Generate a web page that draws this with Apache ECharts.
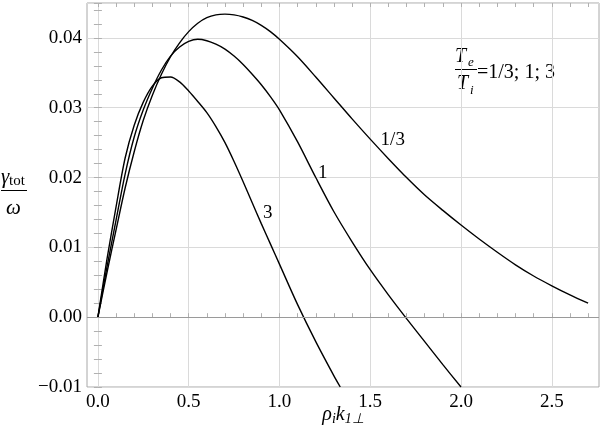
<!DOCTYPE html>
<html>
<head>
<meta charset="utf-8">
<script src="https://cdn.jsdelivr.net/npm/echarts@6/dist/echarts.min.js"></script>
<style>
html, body { margin: 0; padding: 0; background: #fff; }
#chart { width: 600px; height: 427px; }
</style>
</head>
<body>
<div id="chart"></div>
<script>
// curve Te/Ti = 1/3
var x13 = [0, 0.05, 0.1, 0.15, 0.2, 0.25, 0.3, 0.35, 0.4, 0.45, 0.5, 0.55, 0.6, 0.65, 0.7, 0.75, 0.8, 0.85, 0.9, 0.95, 1.0, 1.1, 1.2, 1.3, 1.4, 1.5, 1.6, 1.7, 1.8, 1.9, 2.0, 2.1, 2.2, 2.3, 2.4, 2.5, 2.6, 2.7];
var y13 = [0, 0.0064, 0.0125, 0.0185, 0.0237, 0.0282, 0.0318, 0.0348, 0.0373, 0.0393, 0.0409, 0.0421, 0.0429, 0.0433, 0.0434, 0.0433, 0.0430, 0.0425, 0.0418, 0.0409, 0.0398, 0.0373, 0.0344, 0.0314, 0.0284, 0.0255, 0.0227, 0.0200, 0.0175, 0.0153, 0.0132, 0.0112, 0.0093, 0.0075, 0.0059, 0.0045, 0.0032, 0.0020];
// curve Te/Ti = 1
var x1 = [0, 0.05, 0.1, 0.15, 0.2, 0.25, 0.3, 0.35, 0.4, 0.45, 0.5, 0.55, 0.6, 0.65, 0.7, 0.75, 0.8, 0.85, 0.9, 0.95, 1.0, 1.1, 1.2, 1.3, 1.4, 1.5, 1.6, 1.7, 1.8, 1.9, 2.0];
var y1 = [0, 0.0072, 0.0139, 0.0205, 0.0258, 0.0297, 0.0328, 0.0354, 0.0374, 0.0387, 0.0395, 0.0398, 0.0396, 0.0391, 0.0384, 0.0374, 0.0362, 0.0348, 0.0333, 0.0316, 0.0297, 0.0251, 0.0200, 0.0151, 0.0108, 0.0068, 0.0032, -0.0002, -0.0035, -0.0068, -0.0100];
// curve Te/Ti = 3
var x3 = [0, 0.05, 0.1, 0.15, 0.2, 0.25, 0.3, 0.35, 0.4, 0.45, 0.5, 0.55, 0.6, 0.65, 0.7, 0.75, 0.8, 0.85, 0.9, 0.95, 1.0, 1.1, 1.2, 1.3, 1.335];
var y3 = [0, 0.0083, 0.0158, 0.0228, 0.0275, 0.0308, 0.0331, 0.0343, 0.0344, 0.0337, 0.0324, 0.0309, 0.0293, 0.0273, 0.0250, 0.0223, 0.0194, 0.0164, 0.0134, 0.0105, 0.0076, 0.0018, -0.0035, -0.0084, -0.0100];

var curveNames = ['1/3', '1', '3'];
var xMajorTicks = [0, 0.5, 1, 1.5, 2, 2.5];
var xMinorTicks = [0, 0.1, 0.2, 0.3, 0.4, 0.5, 0.6, 0.7, 0.8, 0.9, 1, 1.1, 1.2, 1.3, 1.4, 1.5, 1.6, 1.7, 1.8, 1.9, 2, 2.1, 2.2, 2.3, 2.4, 2.5, 2.6, 2.7];

var ink = '#000';
var serif = 'Liberation Serif';
var gridColor = '#dadada';
var tickColor = '#b0b0b0';

function zip(xs, ys) {
  return xs.map(function(x, i) { return [x, ys[i]]; });
}

function tickAxis(pos, values) {
  return {
    type: 'value', position: pos, min: -0.06, max: 2.76,
    axisLine: { show: false },
    axisTick: { show: true, inside: true, length: 4, customValues: values, lineStyle: { color: tickColor } },
    axisLabel: { show: false },
    splitLine: { show: false }
  };
}

function curve(name, xs, ys, labelCoord) {
  return {
    name: name, type: 'line', xAxisIndex: 0, yAxisIndex: 0,
    data: zip(xs, ys), smooth: 0.3, showSymbol: false, silent: true,
    lineStyle: { color: ink, width: 1.4 },
    markPoint: {
      symbol: 'circle', symbolSize: 0, silent: true,
      label: { show: true, position: 'inside', formatter: name, color: ink, fontFamily: serif, fontSize: 19 },
      data: [{ coord: labelCoord }]
    }
  };
}

var chart = echarts.init(document.getElementById('chart'), null, { renderer: 'canvas' });

var s13 = curve(curveNames[0], x13, y13, [1.624, 0.0254]);
s13.markLine = {
  silent: true, symbol: ['none', 'none'],
  label: { show: false },
  lineStyle: { color: '#9a9a9a', type: 'solid', width: 1 },
  data: [{ yAxis: 0 }]
};

function txt(text, x, y, size, italic) {
  return {
    type: 'text', x: x, y: y,
    style: { text: text, fontFamily: serif, fontSize: size, fontStyle: italic ? 'italic' : 'normal', fill: ink, verticalAlign: 'bottom' }
  };
}

chart.setOption({
  animation: false,
  backgroundColor: '#fff',
  textStyle: { fontFamily: serif },
  grid: { left: 87, right: 1, top: 3, bottom: 40, show: true, borderColor: '#a8a8a8', borderWidth: 1, outerBoundsMode: 'none', containLabel: false },
  xAxis: [
    {
      type: 'value', position: 'bottom', min: -0.06, max: 2.76,
      axisLine: { show: false },
      axisTick: { show: false, customValues: xMajorTicks },
      axisLabel: {
        customValues: xMajorTicks, color: ink, fontFamily: serif, fontSize: 19, margin: 6,
        formatter: function(v) { return v.toFixed(1); }
      },
      splitLine: { show: true, lineStyle: { color: gridColor, width: 1 } },
      name: '{m|ρ}{s|i}{m|k}{s|1⊥}',
      nameLocation: 'middle', nameGap: 16, nameMoveOverlap: false,
      nameTextStyle: {
        rich: {
          m: { fontFamily: serif, fontStyle: 'italic', fontSize: 20, color: ink },
          s: { fontFamily: serif, fontStyle: 'italic', fontSize: 14, color: ink, padding: [9, 0, 0, 0] }
        }
      }
    },
    tickAxis('bottom', xMinorTicks),
    tickAxis('top', xMinorTicks)
  ],
  yAxis: [
    {
      type: 'value', position: 'left', min: -0.01, max: 0.045, interval: 0.01,
      axisLine: { show: false },
      axisTick: { show: true, inside: true, length: 4, lineStyle: { color: tickColor } },
      minorTick: { show: true, splitNumber: 5, length: 4, lineStyle: { color: tickColor } },
      axisLabel: {
        color: ink, fontFamily: serif, fontSize: 19, margin: 5, showMaxLabel: false,
        formatter: function(v) { return v < 0 ? '\u2212' + Math.abs(v).toFixed(2) : v.toFixed(2); }
      },
      splitLine: { show: true, lineStyle: { color: gridColor, width: 1 } }
    },
    {
      type: 'value', position: 'right', min: -0.01, max: 0.045, interval: 0.01,
      axisLine: { show: false },
      axisTick: { show: true, inside: true, length: 4, lineStyle: { color: tickColor } },
      minorTick: { show: true, splitNumber: 5, length: 4, lineStyle: { color: tickColor } },
      axisLabel: { show: false },
      splitLine: { show: false }
    }
  ],
  graphic: [
    // y axis title: gamma_tot / omega
    txt('γ', 1, 188, 21, true),
    txt('tot', 9, 189, 15, false),
    { type: 'line', shape: { x1: 1, y1: 190.5, x2: 27, y2: 190.5 }, style: { stroke: ink, lineWidth: 1 } },
    txt('ω', 6, 219, 21, true),
    // legend: Te/Ti = 1/3; 1; 3
    txt('T', 455, 67, 20, true),
    txt('e', 468, 69, 13, true),
    { type: 'line', shape: { x1: 455, y1: 69.5, x2: 477, y2: 69.5 }, style: { stroke: ink, lineWidth: 1 } },
    txt('T', 457, 94, 20, true),
    txt('i', 470, 97, 13, true),
    txt('=1/3; 1; 3', 477, 83, 20, false)
  ],
  series: [
    s13,
    curve(curveNames[1], x1, y1, [1.239, 0.0206]),
    curve(curveNames[2], x3, y3, [0.936, 0.0149])
  ]
});
</script>
</body>
</html>
